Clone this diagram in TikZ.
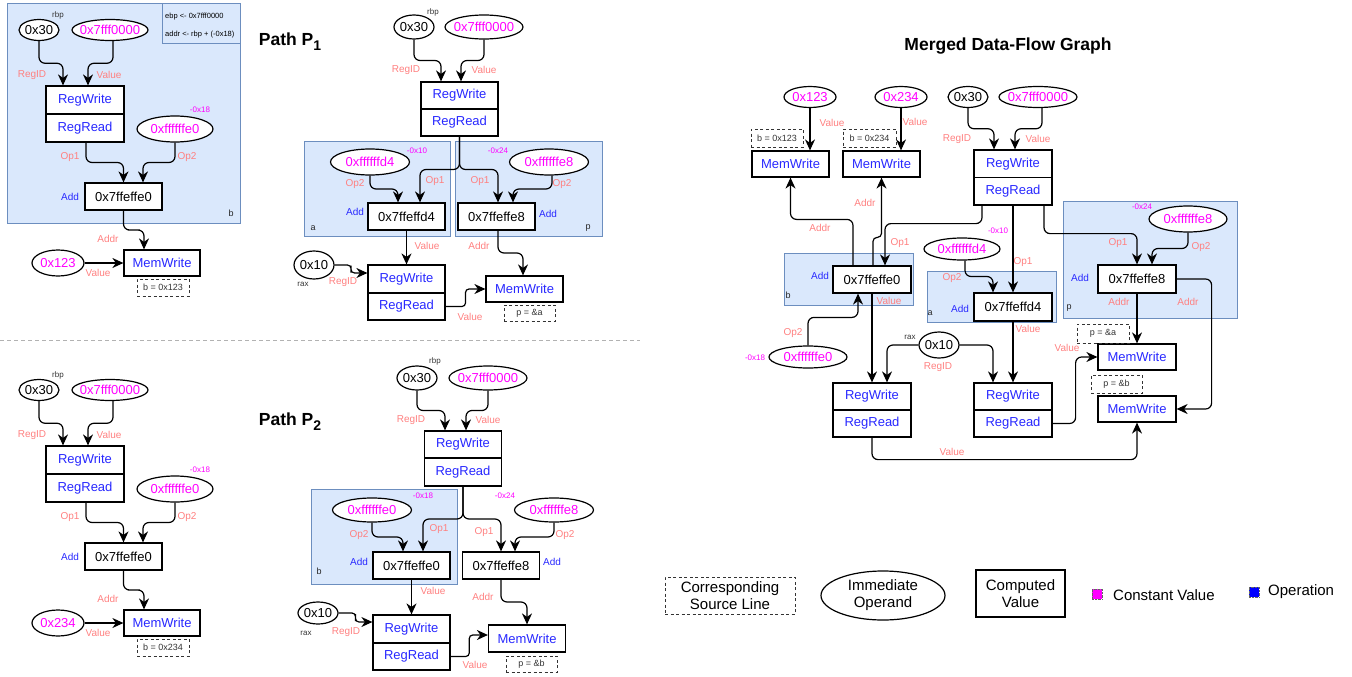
\documentclass[tikz,border=0pt]{standalone}
\usepackage{fontspec}
\setmainfont{Liberation Sans}
\usetikzlibrary{shapes.geometric,arrows.meta,calc}
\definecolor{opblue}{RGB}{40,40,255}
\definecolor{cmag}{RGB}{255,0,255}
\definecolor{elabc}{RGB}{255,128,128}
\definecolor{grpfill}{HTML}{DAE8FC}
\definecolor{grpdraw}{HTML}{6C8EBF}
\newcommand\fs[1]{\fontsize{#1}{#1}\selectfont}
\newcommand\zz[1]{\makebox[0pt]{#1}}
\newcommand\vconn[3][]{\draw[conn,#1] (#2) |- ($(#2)!.5!(#3)$) -| (#3);}
\newcommand\hconn[3][]{\draw[conn,rounded corners=3.5pt,#1] (#2) -| ($(#2)!.5!(#3)$) |- (#3);}
% left panel: #1 prefix, #2 dy, #3 constant, #4 source line
\newcommand\leftpanel[4]{%
\node[imm, minimum width=40pt, minimum height=21pt] (#1e30) at (39,{30+#2}) {\zz{0x30}};
\node[sml] (#1rbp) at (58,{15+#2}) {rbp};
\node[cimm, minimum width=76pt, minimum height=21pt] (#1e7f) at (110,{30+#2}) {\zz{0x7fff0000}};
\node[opb, minimum width=78pt, minimum height=28pt] (#1rw) at (85,{100+#2}) {RegWrite};
\node[opb, minimum width=78pt, minimum height=28pt] (#1rr) at (85,{128+#2}) {RegRead};
\node[cimm, minimum width=76pt, minimum height=26pt] (#1eo) at (175,{129+#2}) {\zz{0xffffffe0}};
\node[offl] (#1off) at (200,{110+#2}) {-0x18};
\node[box] (#1add) at (123.5,{196.5+#2}) {0x7ffeffe0};
\node[addl] (#1addl) at (70,{197+#2}) {Add};
\node[opb, minimum width=76pt, minimum height=26pt] (#1mw) at (162,{263+#2}) {MemWrite};
\node[cimm, minimum width=52pt, minimum height=26pt] (#1ec) at (58,{263+#2}) {\zz{#3}};
\node[srcb, minimum width=52pt, minimum height=17pt] (#1src) at (163,{287.5+#2}) {#4};
\vconn{#1e30.south}{[xshift=-22pt]#1rw.north}
\vconn{[xshift=3pt]#1e7f.south}{[xshift=3pt]#1rw.north}
\vconn{[xshift=1pt]#1rr.south}{#1add.north}
\vconn{#1eo.south}{[xshift=19.5pt]#1add.north}
\vconn{#1add.south}{[xshift=-18pt]#1mw.north}
\draw[conn] (#1ec.east) -- (#1mw.west);
\node[elab] (#1l1) at (32,{75+#2}) {RegID};
\node[elab] (#1l2) at (109,{75+#2}) {Value};
\node[elab] (#1l3) at (70,{157+#2}) {Op1};
\node[elab] (#1l4) at (187,{157+#2}) {Op2};
\node[elab] (#1l5) at (108,{239+#2}) {Addr};
\node[elab] (#1l6) at (98,{273+#2}) {Value};
}
\begin{document}
\begin{tikzpicture}[x=1pt,y=-1pt,
 box/.style={draw, fill=white, line width=1.2pt, minimum width=77pt, minimum height=27pt, inner sep=0pt, font=\fs{13}},
 opb/.style={box, text=opblue},
 imm/.style={ellipse, draw, fill=white, line width=1.2pt, inner sep=0pt, font=\fs{13}},
 cimm/.style={imm, text=cmag},
 srcb/.style={draw=black!80, dash pattern=on 3pt off 2.5pt, line width=1pt, inner sep=0pt, font=\fs{9}, text=black!80},
 grp/.style={fill=grpfill, draw=grpdraw, line width=1pt},
 elab/.style={font=\fs{10}, text=elabc, inner sep=0pt},
 sml/.style={font=\fs{8}, inner sep=0pt, text=black!80},
 gl/.style={font=\fs{9}, inner sep=0pt, text=black!85},
 offl/.style={font=\fs{8}, text=cmag, inner sep=0pt},
 addl/.style={font=\fs{10}, text=opblue, inner sep=0pt},
 conn/.style={line width=1.2pt, rounded corners=6pt, -{Stealth[length=11pt,width=10pt,inset=3.5pt]}},
 ttl/.style={font=\fs{17.5}\bfseries, inner sep=0pt},
 lgt/.style={font={\fontsize{15}{17}\selectfont}, align=center}
]
\useasboundingbox (0,0) rectangle (1352,677);

% ---------------- top-left panel ----------------
\draw[grp] (7,4) rectangle (240,223);
\draw[grp] (162,4) rectangle (240,44);
\node[font=\fs{7.5}, inner sep=0pt, anchor=west] (tlc1) at (165,17) {ebp <- 0x7fff0000};
\node[font=\fs{7.5}, inner sep=0pt, anchor=west] (tlc2) at (165,35) {addr <- rbp + (-0x18)};
\node[gl] (tlgb) at (231,213) {b};
\leftpanel{tl}{0}{0x123}{b = 0x123}

% separator
\draw[gray!60, dash pattern=on 4pt off 3pt, line width=1pt] (0,340) -- (640,340);

% ---------------- bottom-left panel ----------------
\leftpanel{bl}{360}{0x234}{b = 0x234}

% ---------------- Path P1 ----------------
\node[ttl] (t1) at (290,42) {Path P\raisebox{-5pt}{\fs{14}\bfseries 1}};
\draw[grp] (304,141) rectangle (450,236);
\draw[grp] (455,141) rectangle (602,236);
\node[gl] (p1ga) at (313,228) {a};
\node[gl] (p1gp) at (588,228) {p};
\node[imm, minimum width=40pt, minimum height=24pt] (p1e30) at (414,27) {\zz{0x30}};
\node[sml] (p1rbp) at (433,12) {rbp};
\node[cimm, minimum width=78pt, minimum height=24pt] (p1e7f) at (484,27) {\zz{0x7fff0000}};
\node[opb] (p1rw) at (459.5,95.5) {RegWrite};
\node[opb] (p1rr) at (459.5,122.5) {RegRead};
\node[cimm, minimum width=79pt, minimum height=26pt] (p1ed4) at (370,162) {\zz{0xffffffd4}};
\node[offl] (p1o1) at (417,151) {-0x10};
\node[cimm, minimum width=79pt, minimum height=26pt] (p1ee8) at (549,162) {\zz{0xffffffe8}};
\node[offl] (p1o2) at (498,151) {-0x24};
\node[box] (p1adda) at (406.5,216.5) {0x7ffeffd4};
\node[addl] (p1al1) at (355,212) {Add};
\node[box] (p1addp) at (496.5,216.5) {0x7ffeffe8};
\node[addl] (p1al2) at (548,214) {Add};
\node[imm, minimum width=40pt, minimum height=28pt] (p1e10) at (314,265) {\zz{0x10}};
\node[sml] (p1rax) at (303,284) {rax};
\node[opb, minimum height=28pt] (p1rw2) at (406.5,279) {RegWrite};
\node[opb] (p1rr2) at (406.5,306.5) {RegRead};
\node[opb, minimum height=26pt] (p1mw) at (524.5,289) {MemWrite};
\node[srcb, minimum width=51pt, minimum height=16pt] (p1src) at (529.5,313) {p = \&a};
\vconn{p1e30.south}{[xshift=-18.5pt]p1rw.north}
\vconn{p1e7f.south}{[xshift=1.5pt]p1rw.north}
\vconn{p1rr.south}{[xshift=13.5pt]p1adda.north}
\vconn{p1rr.south}{[xshift=1.5pt]p1addp.north}
\vconn{p1ed4.south}{[xshift=-8.5pt]p1adda.north}
\vconn{[xshift=3pt]p1ee8.south}{[xshift=16.5pt]p1addp.north}
\draw[conn] (p1adda.south) -- (p1rw2.north);
\vconn{[xshift=1.5pt]p1addp.south}{[xshift=-1.5pt]p1mw.north}
\hconn{p1e10.east}{[yshift=6pt]p1rw2.west}
\hconn{p1rr2.east}{p1mw.west}
\node[elab] (p1l1) at (406,70) {RegID};
\node[elab] (p1l2) at (484,70) {Value};
\node[elab] (p1l3) at (435,181) {Op1};
\node[elab] (p1l4) at (480,181) {Op1};
\node[elab] (p1l5) at (355,184) {Op2};
\node[elab] (p1l6) at (562,184) {Op2};
\node[elab] (p1l7) at (427,246) {Value};
\node[elab] (p1l8) at (479,246) {Addr};
\node[elab] (p1l9) at (343,282) {RegID};
\node[elab] (p1l10) at (470,317) {Value};

% ---------------- Path P2 ----------------
\node[ttl] (t2) at (290,422) {Path P\raisebox{-5pt}{\fs{14}\bfseries 2}};
\draw[grp] (311,489) rectangle (457,584);
\node[gl] (p2gb) at (319,571) {b};
\node[imm, minimum width=40pt, minimum height=24pt] (p2e30) at (417,378) {\zz{0x30}};
\node[sml] (p2rbp) at (435,361) {rbp};
\node[cimm, minimum width=78pt, minimum height=24pt] (p2e7f) at (488,378) {\zz{0x7fff0000}};
\node[opb] (p2rw) at (463,444.5) {RegWrite};
\node[opb, minimum height=28pt] (p2rr) at (463,472) {RegRead};
\node[cimm, minimum width=79pt, minimum height=24pt] (p2ee0) at (372,510) {\zz{0xffffffe0}};
\node[offl] (p2o1) at (423,496) {-0x18};
\node[cimm, minimum width=79pt, minimum height=24pt] (p2ee8) at (554,510) {\zz{0xffffffe8}};
\node[offl] (p2o2) at (505,496) {-0x24};
\node[box] (p2addb) at (411.5,565.5) {0x7ffeffe0};
\node[addl] (p2al1) at (359,562) {Add};
\node[box] (p2addp) at (501,565.5) {0x7ffeffe8};
\node[addl] (p2al2) at (552,562) {Add};
\node[imm, minimum width=40pt, minimum height=22pt] (p2e10) at (318,613) {\zz{0x10}};
\node[sml] (p2rax) at (306,633) {rax};
\node[opb, minimum height=28pt] (p2rw2) at (411.5,629) {RegWrite};
\node[opb] (p2rr2) at (411.5,656.5) {RegRead};
\node[opb, minimum height=27pt] (p2mw) at (527,638.5) {MemWrite};
\node[srcb, minimum width=51pt, minimum height=16pt] (p2src) at (531.5,664) {p = \&b};
\vconn{p2e30.south}{[xshift=-18pt]p2rw.north}
\vconn{p2e7f.south}{[xshift=3pt]p2rw.north}
\vconn{p2rr.south}{[xshift=11.5pt]p2addb.north}
\vconn{p2rr.south}{p2addp.north}
\vconn{p2ee0.south}{[xshift=-8.5pt]p2addb.north}
\vconn{p2ee8.south}{[xshift=14pt]p2addp.north}
\draw[conn] (p2addb.south) -- (p2rw2.north);
\vconn{p2addp.south}{[xshift=0pt]p2mw.north}
\hconn{p2e10.east}{[yshift=7pt]p2rw2.west}
\hconn{p2rr2.east}{[yshift=3.5pt]p2mw.west}
\node[elab] (p2l1) at (411,420) {RegID};
\node[elab] (p2l2) at (488,420) {Value};
\node[elab] (p2l3) at (439,529) {Op1};
\node[elab] (p2l4) at (484,532) {Op1};
\node[elab] (p2l5) at (359,535) {Op2};
\node[elab] (p2l6) at (565,535) {Op2};
\node[elab] (p2l7) at (433,591) {Value};
\node[elab] (p2l8) at (483,597) {Addr};
\node[elab] (p2l9) at (346,632) {RegID};
\node[elab] (p2l10) at (475,665) {Value};

% ---------------- Merged graph ----------------
\node[font=\fs{17.5}\bfseries, inner sep=0pt] (mt) at (1008,46) {Merged Data-Flow Graph};
\draw[grp] (784,253) rectangle (913,305);
\draw[grp] (927,271) rectangle (1056,322);
\draw[grp] (1063,201) rectangle (1237,318);
\node[gl] (mgb) at (788,295) {b};
\node[gl] (mga) at (930,313) {a};
\node[gl] (mgp) at (1069,308) {p};
\node[cimm, minimum width=52pt, minimum height=21pt] (me123) at (810,97) {\zz{0x123}};
\node[cimm, minimum width=52pt, minimum height=21pt] (me234) at (901,97) {\zz{0x234}};
\node[imm, minimum width=40pt, minimum height=21pt] (me30) at (968,97) {\zz{0x30}};
\node[cimm, minimum width=78pt, minimum height=21pt] (me7f) at (1038,97) {\zz{0x7fff0000}};
\node[srcb, minimum width=52pt, minimum height=18pt] (msrc1) at (777,138) {b = 0x123};
\node[srcb, minimum width=53pt, minimum height=18pt] (msrc2) at (869.5,138) {b = 0x234};
\node[opb, minimum height=26pt] (mmw1) at (790.5,164) {MemWrite};
\node[opb, minimum height=26pt] (mmw2) at (881.5,164) {MemWrite};
\node[opb, minimum width=78pt, minimum height=27.5pt] (mrw) at (1013,163.75) {RegWrite};
\node[opb, minimum width=78pt, minimum height=27.5pt] (mrr) at (1013,191.25) {RegRead};
\node[box, minimum width=78pt] (maddb) at (872,279.5) {0x7ffeffe0};
\node[addl] (mal1) at (820,276) {Add};
\node[cimm, minimum width=78pt, minimum height=22pt] (mee0) at (808,357) {\zz{0xffffffe0}};
\node[offl] (mo1) at (755,358) {-0x18};
\node[cimm, minimum width=76pt, minimum height=22pt] (mead4) at (962,249) {\zz{0xffffffd4}};
\node[offl] (mo2) at (998,231) {-0x10};
\node[box, minimum width=78pt, minimum height=28pt] (madda) at (1013,307) {0x7ffeffd4};
\node[addl] (mal2) at (960,309) {Add};
\node[cimm, minimum width=78pt, minimum height=26pt] (meee8) at (1188,219) {\zz{0xffffffe8}};
\node[offl] (mo3) at (1142,207) {-0x24};
\node[box, minimum width=78pt, minimum height=28pt] (maddp) at (1137,279) {0x7ffeffe8};
\node[addl] (mal3) at (1080,278) {Add};
\node[opb, minimum width=78pt, minimum height=26pt] (mmw3) at (1137,357) {MemWrite};
\node[opb, minimum width=78pt, minimum height=26pt] (mmw4) at (1137,409) {MemWrite};
\node[srcb, minimum width=52pt, minimum height=19pt] (msrc3) at (1103,333.5) {p = \&a};
\node[srcb, minimum width=51pt, minimum height=18pt] (msrc4) at (1116.5,384) {p = \&b};
\node[opb, minimum width=78pt] (mrw2l) at (872,396.5) {RegWrite};
\node[opb, minimum width=78pt] (mrr2l) at (872,423.5) {RegRead};
\node[opb, minimum width=78pt] (mrw2r) at (1013,396.5) {RegWrite};
\node[opb, minimum width=78pt] (mrr2r) at (1013,423.5) {RegRead};
\node[imm, minimum width=40pt, minimum height=26pt] (me10) at (939,345) {\zz{0x10}};
\node[sml] (mrax) at (910,337) {rax};
% merged edges
\draw[conn] (me123.south) -- (me123.south |- mmw1.north);
\draw[conn] (me234.south) -- (me234.south |- mmw2.north);
\vconn{me30.south}{[xshift=-19pt]mrw.north}
\vconn{[xshift=4pt]me7f.south}{[xshift=2pt]mrw.north}
\draw[conn] ([xshift=-19pt]maddb.north) -- ++(0,-46) -| (mmw1.south);
\draw[conn,rounded corners=4pt] ([xshift=1pt]maddb.north) -- ++(0,-28) -| (mmw2.south);
\draw[conn] ([xshift=-31pt]mrr.south) -- ++(0,18) -| ([xshift=13pt]maddb.north);
\draw[conn] (mee0.north) -- ++(0,-28) -| ([xshift=-14pt]maddb.south);
\draw[conn] (maddb.south) -- (mrw2l.north);
\draw[conn] (me10.west) -| ([xshift=15pt]mrw2l.north);
\draw[conn] (me10.east) -| ([xshift=-20pt]mrw2r.north);
\vconn{[xshift=3pt]mead4.south}{[xshift=-20pt]madda.north}
\draw[conn] (mrr.south) -- (madda.north);
\draw[conn] (madda.south) -- (mrw2r.north);
\draw[conn] ([xshift=31pt]mrr.south) -- ++(0,28) -| (maddp.north);
\vconn{meee8.south}{[xshift=15pt]maddp.north}
\draw[conn] (maddp.south) -- (mmw3.north);
\draw[conn] (maddp.east) -- ++(35,0) |- (mmw4.east);
\draw[conn] (mrr2r.east) -- ++(23,0) |- (mmw3.west);
\draw[conn] (mrr2l.south) -- ++(0,22) -| (mmw4.south);
% merged labels
\node[elab] (ml1) at (832,123) {Value};
\node[elab] (ml2) at (915,122) {Value};
\node[elab] (ml3) at (957,139) {RegID};
\node[elab] (ml4) at (1038,139) {Value};
\node[elab] (ml5) at (820,228) {Addr};
\node[elab] (ml6) at (865,203) {Addr};
\node[elab] (ml7) at (900,243) {Op1};
\node[elab] (ml8) at (793,333) {Op2};
\node[elab] (ml9) at (889,301) {Value};
\node[elab] (ml10) at (1023,262) {Op1};
\node[elab] (ml11) at (952,278) {Op2};
\node[elab] (ml12) at (1028,329) {Value};
\node[elab] (ml13) at (938,367) {RegID};
\node[elab] (ml14) at (1118,243) {Op1};
\node[elab] (ml15) at (1201,247) {Op2};
\node[elab] (ml16) at (1119,302) {Addr};
\node[elab] (ml17) at (1188,302) {Addr};
\node[elab] (ml18) at (1067,348) {Value};
\node[elab] (ml19) at (952,452) {Value};

% ---------------- legend ----------------
\node[srcb, lgt, text=black, minimum width=130pt, minimum height=37pt] (lg1) at (730,595.5) {Corresponding\\Source Line};
\node[imm, lgt, minimum width=124pt, minimum height=49pt] (lg2) at (883,595.5) {Immediate\\Operand};
\node[box, lgt, minimum width=89pt, minimum height=47pt] (lg3) at (1020.5,593.5) {Computed\\Value};
\node[draw=black!60, densely dotted, fill=cmag, minimum size=10pt, inner sep=0pt] (lg4) at (1097,594) {};
\node[anchor=west, font=\fs{15}, inner sep=0pt] (lg5) at (1113,595) {Constant Value};
\node[draw=black!60, densely dotted, fill=blue, minimum size=10pt, inner sep=0pt] (lg6) at (1254,592) {};
\node[anchor=west, font=\fs{15}, inner sep=0pt] (lg7) at (1268,592) {Operation};
\end{tikzpicture}
\end{document}
